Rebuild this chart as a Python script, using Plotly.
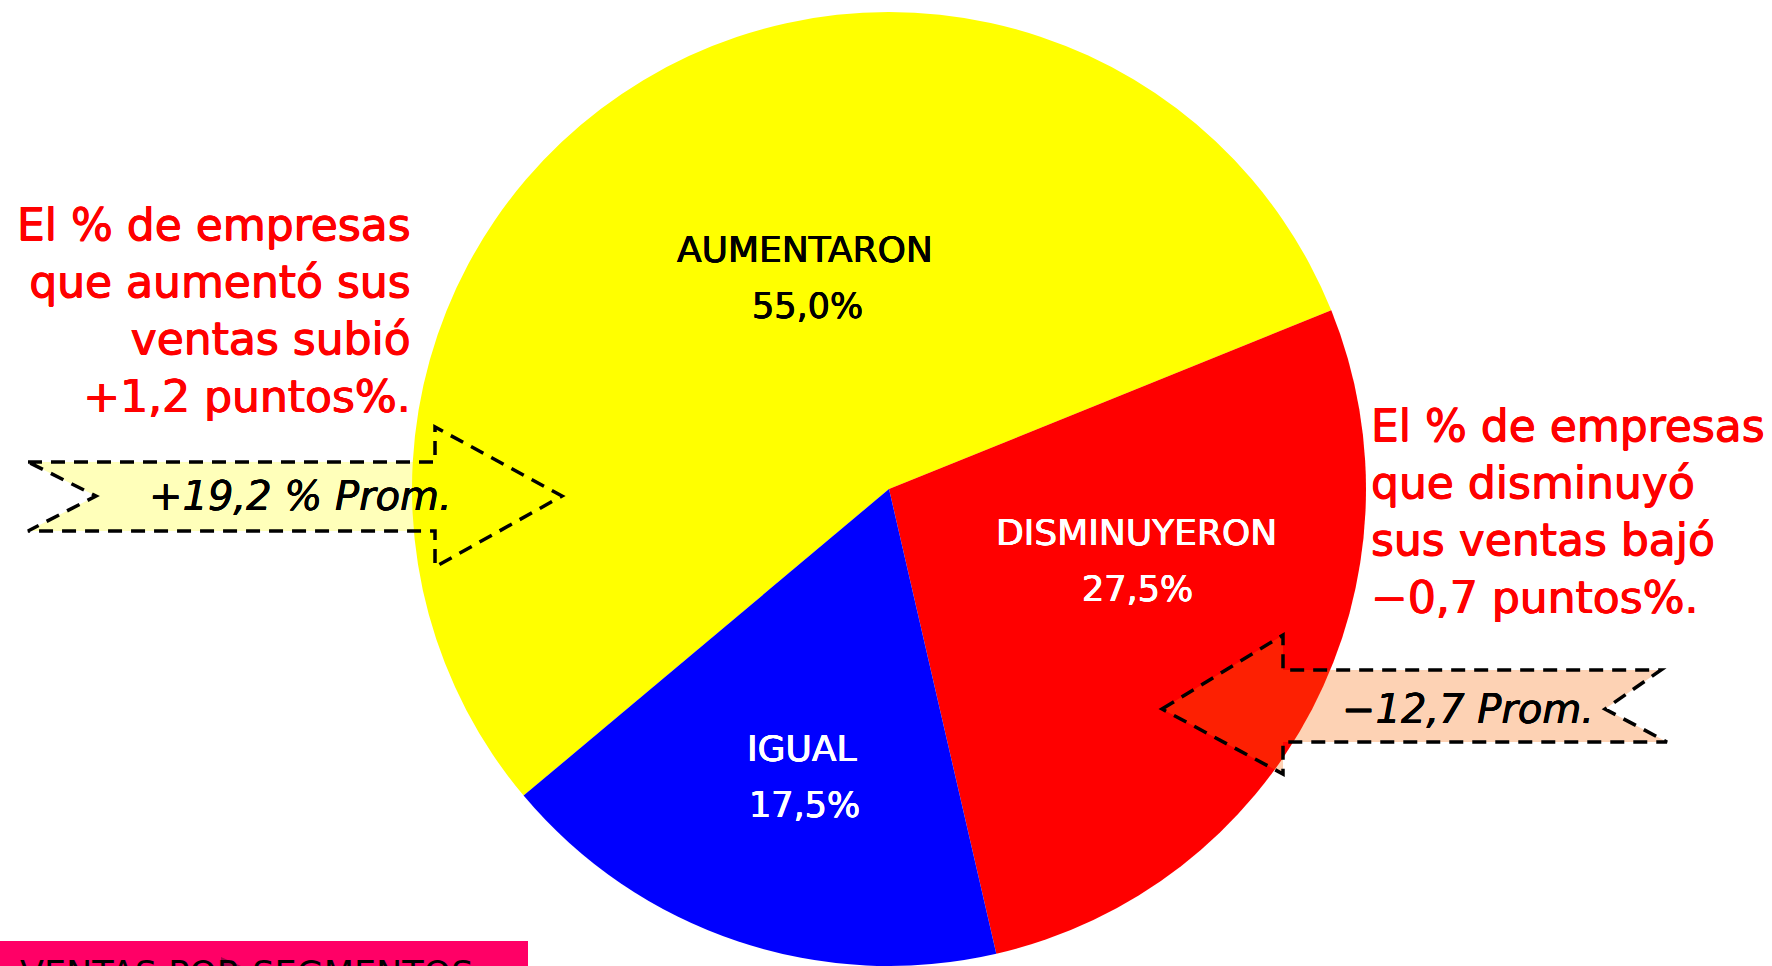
import plotly.graph_objects as go

W, H = 1772, 966

categories = ["AUMENTARON", "DISMINUYERON", "IGUAL"]
values = [55.0, 27.5, 17.5]
value_labels = ["55,0%", "27,5%", "17,5%"]
slice_colors = ["#FFFF00", "#FF0000", "#0000FF"]
label_colors = ["#000000", "#FFFFFF", "#FFFFFF"]

left_note = "El % de empresas<br>que aumentó sus<br>ventas subió<br>+1,2 puntos%."
right_note = "El % de empresas<br>que disminuyó<br>sus ventas bajó<br>−0,7 puntos%."
left_arrow_text = "+19,2 % Prom."
right_arrow_text = "−12,7 Prom."
footer_text = "VENTAS POR SEGMENTOS"

FONT = "DejaVu Sans"


def px(x):
    return x / W


def py(y):
    return 1 - y / H


def path(points):
    return "M " + " L ".join(f"{px(x):.5f},{py(y):.5f}" for x, y in points) + " Z"


def heavy(color, d=0.55):
    return f"{d}px 0 0 {color}, -{d}px 0 0 {color}, 0 {d}px 0 {color}"


fig = go.Figure()
fig.add_trace(go.Pie(
    labels=categories,
    values=values,
    sort=False,
    direction="clockwise",
    rotation=230,
    marker=dict(colors=slice_colors, line=dict(width=0)),
    textinfo="none",
    hoverinfo="label+percent",
    showlegend=False,
    domain=dict(x=[412 / W, 1366 / W], y=[0, 1 - 12 / H]),
))

shapes = []
# footer bar
shapes.append(dict(type="rect", xref="paper", yref="paper",
                   x0=0, x1=px(528), y0=py(970), y1=py(941),
                   fillcolor="#FF0066", line=dict(width=0), layer="above"))
shapes.append(dict(type="path", xref="paper", yref="paper",
                   path=path([(221, 957), (250, 970), (221, 970)]),
                   fillcolor="#A8004A", line=dict(width=0), layer="above"))

# left arrow (pointing right)
left_pts = [(28, 462), (435, 462), (435, 427), (562, 496), (435, 567),
            (435, 531), (28, 531), (96, 496)]
shapes.append(dict(type="path", xref="paper", yref="paper", path=path(left_pts),
                   fillcolor="rgba(255,255,0,0.27)",
                   line=dict(color="black", width=3.5, dash="14px,9px"), layer="above"))

# right arrow (pointing left)
right_pts = [(1162, 709), (1283, 635), (1283, 670), (1661, 670), (1605, 709),
             (1667, 742), (1283, 742), (1283, 774)]
shapes.append(dict(type="path", xref="paper", yref="paper", path=path(right_pts),
                   fillcolor="rgba(248,107,5,0.30)",
                   line=dict(color="black", width=3.5, dash="14px,9px"), layer="above"))

annotations = []
name_pos = [(805, 249), (1136, 532), (802, 748)]
val_pos = [(807, 306), (1137, 589), (804, 805)]
for cat, val, col, (nx, ny), (vx, vy) in zip(categories, value_labels, label_colors, name_pos, val_pos):
    annotations.append(dict(x=px(nx), y=py(ny), xref="paper", yref="paper", text=cat,
                            showarrow=False, xanchor="center", yanchor="middle",
                            font=dict(family=FONT, size=36, color=col, shadow=heavy(col, 0.4))))
    annotations.append(dict(x=px(vx), y=py(vy), xref="paper", yref="paper", text=val,
                            showarrow=False, xanchor="center", yanchor="middle",
                            font=dict(family=FONT, size=35, color=col, shadow=heavy(col, 0.4))))

annotations.append(dict(x=px(413), y=py(310), xref="paper", yref="paper", text=left_note,
                        showarrow=False, xanchor="right", yanchor="middle", align="right",
                        font=dict(family=FONT, size=44, color="#FF0000", shadow=heavy("#FF0000"))))
annotations.append(dict(x=px(1369), y=py(511), xref="paper", yref="paper", text=right_note,
                        showarrow=False, xanchor="left", yanchor="middle", align="left",
                        font=dict(family=FONT, size=44, color="#FF0000", shadow=heavy("#FF0000"))))
annotations.append(dict(x=px(300), y=py(496), xref="paper", yref="paper",
                        text=f"<i>{left_arrow_text}</i>",
                        showarrow=False, xanchor="center", yanchor="middle",
                        font=dict(family=FONT, size=40, color="black", shadow=heavy("#000000", 0.3))))
annotations.append(dict(x=px(1468), y=py(709), xref="paper", yref="paper",
                        text=f"<i>{right_arrow_text}</i>",
                        showarrow=False, xanchor="center", yanchor="middle",
                        font=dict(family=FONT, size=40, color="black", shadow=heavy("#000000", 0.3))))
annotations.append(dict(x=px(18), y=py(974), xref="paper", yref="paper", text=footer_text,
                        showarrow=False, xanchor="left", yanchor="middle",
                        font=dict(family=FONT, size=35, color="black")))

fig.update_layout(
    width=W, height=H,
    margin=dict(l=0, r=0, t=0, b=0),
    paper_bgcolor="white",
    plot_bgcolor="white",
    shapes=shapes,
    annotations=annotations,
    showlegend=False,
)

fig.write_html("out.html",
               config={"displayModeBar": False},
               post_script="document.body.style.margin='0';document.body.style.overflow='hidden';")
